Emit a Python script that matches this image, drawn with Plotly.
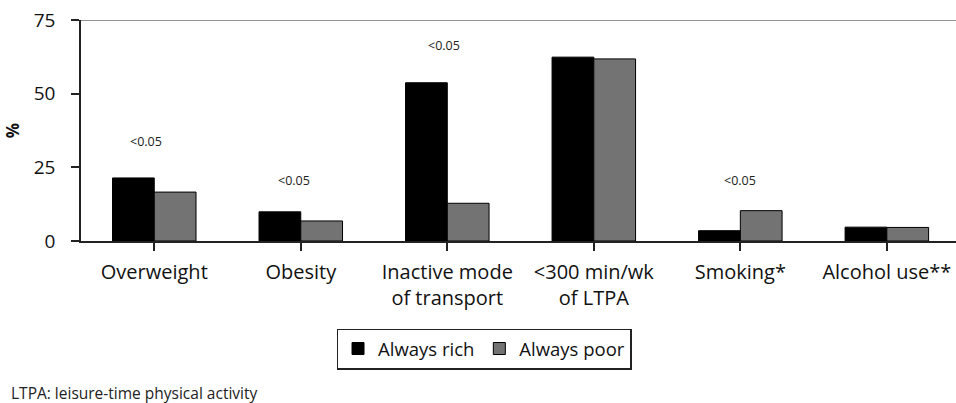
import plotly.graph_objects as go

categories = ["Overweight", "Obesity", "Inactive mode<br>of transport",
              "<300 min/wk<br>of LTPA", "Smoking*", "Alcohol use**"]
always_rich = [21.4, 9.9, 53.7, 62.4, 3.5, 4.7]
always_poor = [16.6, 6.8, 12.8, 61.8, 10.3, 4.6]

p_labels = ["<0.05", "<0.05", "<0.05", "", "<0.05", ""]
p_label_y = [33.9, 20.7, 66.5, None, 20.7, None]
p_label_xshift = [-8, -7, -3, 0, 0, 0]

y_ticks = [0, 25, 50, 75]

FONT = "Open Sans"
x_idx = list(range(len(categories)))

fig = go.Figure()
fig.add_trace(go.Bar(x=x_idx, y=always_rich, name="Always rich",
                     marker=dict(color="#000000", line=dict(color="#000000", width=1))))
fig.add_trace(go.Bar(x=x_idx, y=always_poor, name="Always poor",
                     marker=dict(color="#737373", line=dict(color="#000000", width=1))))

for i, (t, yv, xs) in enumerate(zip(p_labels, p_label_y, p_label_xshift)):
    if t:
        fig.add_annotation(x=i, y=yv, text=t.replace("<", "&lt;"), showarrow=False,
                           xshift=xs, font=dict(family=FONT, size=12.5, color="#222"))

# top border line at y=75
fig.add_shape(type="line", xref="paper", yref="y", x0=0, x1=1, y0=75, y1=75,
              line=dict(color="#6e6e6e", width=1.5))

fig.add_annotation(text="LTPA: leisure-time physical activity", xref="paper", yref="paper",
                   x=-81/875, y=-(393 - 241) / 221, xanchor="left", yanchor="middle", showarrow=False,
                   xshift=9, font=dict(family=FONT, size=15.5, color="#222"))

fig.update_layout(
    width=956, height=403,
    margin=dict(l=81, r=0, t=20, b=162, autoexpand=False),
    plot_bgcolor="white", paper_bgcolor="white",
    barmode="group", bargap=0.43, bargroupgap=0,
    font=dict(family=FONT, color="#111"),
    showlegend=True,
    legend=dict(orientation="h", x=0.4606, y=-(349 - 241) / 221, xanchor="center", yanchor="middle",
                bordercolor="#222", borderwidth=1.5, font=dict(family=FONT, size=18.5, color="#111"),
                traceorder="normal"),
    xaxis=dict(tickmode="array", tickvals=x_idx, ticktext=categories,
               range=[-0.5, 5.472], showline=True, linecolor="#222", linewidth=1.5,
               ticks="outside", ticklen=8, tickcolor="#222", tickwidth=1.5,
               tickson="boundaries", showgrid=False, zeroline=False, automargin=False,
               ticklabelstandoff=4,
               tickfont=dict(family=FONT, size=20, color="#111")),
    yaxis=dict(range=[0, 75], tickvals=y_ticks, showline=True, linecolor="#222", linewidth=1.5,
               ticks="outside", ticklen=8, tickcolor="#222", tickwidth=1.5,
               showgrid=False, zeroline=False, ticklabelstandoff=12, automargin=False,
               tickfont=dict(family=FONT, size=19, color="#111")),
)
fig.update_yaxes(title=dict(text="<b>%</b>", font=dict(family=FONT, size=17, color="#111"), standoff=10))

fig.write_html("out.html", config={"displayModeBar": False},
               post_script="document.body.style.margin='0';document.body.style.overflow='hidden';")
